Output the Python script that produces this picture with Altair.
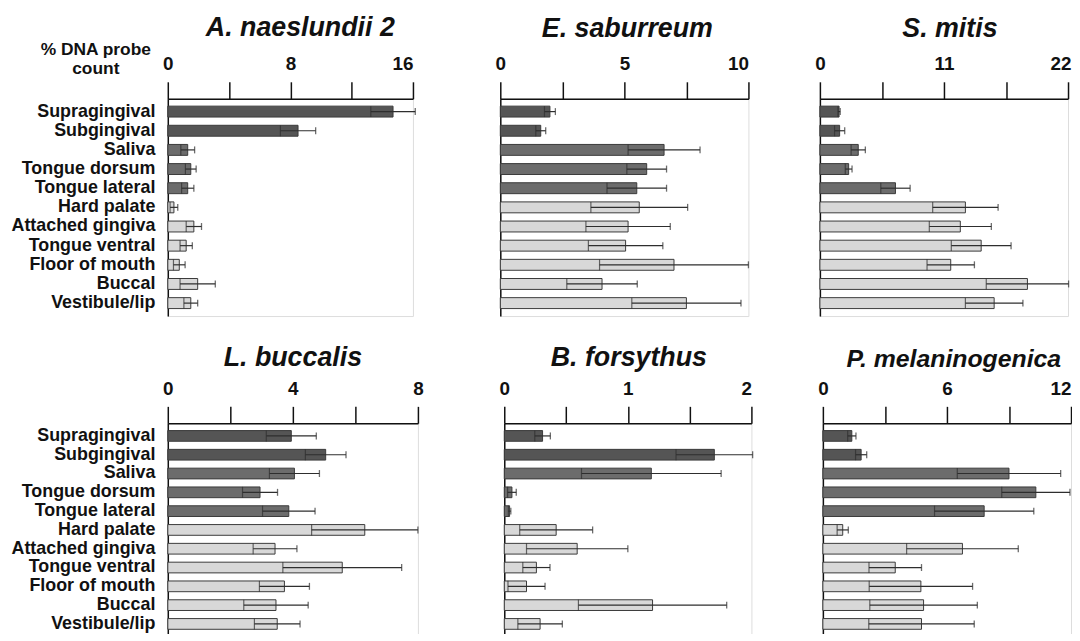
import altair as alt
import pandas as pd

sites = ["Supragingival", "Subgingival", "Saliva", "Tongue dorsum", "Tongue lateral",
         "Hard palate", "Attached gingiva", "Tongue ventral", "Floor of mouth",
         "Buccal", "Vestibule/lip"]
site_group = ["plaque", "plaque", "dark", "dark", "dark",
              "light", "light", "light", "light", "light", "light"]

species = ["A. naeslundii 2", "E. saburreum", "S. mitis",
           "L. buccalis", "B. forsythus", "P. melaninogenica"]
axis_max = [16, 10, 22, 8, 2, 12]

mean_values = [
    [14.7, 8.5, 1.3, 1.5, 1.3, 0.4, 1.7, 1.2, 0.75, 1.95, 1.5],
    [2.0, 1.63, 6.6, 5.9, 5.5, 5.6, 5.15, 5.05, 7.0, 4.1, 7.5],
    [1.7, 1.75, 3.4, 2.55, 6.7, 12.9, 12.45, 14.3, 11.6, 18.4, 15.45],
    [3.95, 5.05, 4.05, 2.95, 3.87, 6.3, 3.43, 5.58, 3.73, 3.46, 3.5],
    [0.31, 1.70, 1.19, 0.062, 0.043, 0.42, 0.59, 0.26, 0.18, 1.2, 0.29],
    [1.4, 1.85, 9.0, 10.3, 7.8, 0.96, 6.75, 3.5, 4.74, 4.87, 4.77],
]
se_values = [
    [1.45, 1.15, 0.45, 0.35, 0.4, 0.25, 0.5, 0.4, 0.38, 1.15, 0.45],
    [0.22, 0.2, 1.45, 0.8, 1.2, 1.95, 1.7, 1.5, 3.0, 1.42, 2.2],
    [0.1, 0.45, 0.63, 0.3, 1.3, 2.9, 2.75, 2.65, 2.1, 3.65, 2.55],
    [0.8, 0.65, 0.8, 0.56, 0.84, 1.7, 0.7, 1.9, 0.8, 1.03, 0.73],
    [0.063, 0.31, 0.565, 0.035, 0.01, 0.295, 0.41, 0.11, 0.15, 0.6, 0.18],
    [0.2, 0.27, 2.5, 1.65, 2.4, 0.27, 2.7, 1.27, 2.5, 2.6, 2.55],
]
# alignment of the last tick label and its extra horizontal offset
last_label_align = ["right", "right", "right", "center", "right", "right"]
last_label_offset = [0, 0, 3, 0, 0, 0]
panel_width = [247, 250, 250, 252, 249, 250]
panel_height = [219, 219, 219, 215, 215, 215]
title_offset = [-1, 12, 12, 8, 8, 8]
title_dx = [10, 3, 6, 0, 1, 7]
title_size = [27, 27, 27, 27, 27, 25]

FONT = "Liberation Sans"


def panel(i, first_col, first_row):
    mx = axis_max[i]
    df = pd.DataFrame({
        "site": sites,
        "group": site_group,
        "mean": mean_values[i],
        "se": se_values[i],
    })
    df["lo"] = (df["mean"] - df["se"]).clip(lower=0)
    df["hi"] = df["mean"] + df["se"]

    tick_vals = [mx * k / 4 for k in range(5)]
    mid = mx / 2
    label_expr = (f"datum.value == 0 || datum.value == {mid} || datum.value == {mx}"
                  " ? format(datum.value, 'd') : ''")
    label_align = {"condition": {"test": f"datum.value == {mx}",
                                 "value": last_label_align[i]},
                   "value": "center"}
    label_offset = {"condition": {"test": f"datum.value == {mx}",
                                  "value": last_label_offset[i]},
                    "value": 0}

    xaxis = alt.Axis(orient="top", values=tick_vals, labelExpr=label_expr,
                     labelAlign=label_align, labelOffset=label_offset,
                     labelOverlap=False, labelFlush=False,
                     labelFont=FONT, labelFontSize=19, labelFontWeight="bold",
                     labelColor="#111", labelPadding=8, tickSize=17, tickWidth=1.5,
                     tickColor="#111", domainColor="#111", domainWidth=1.5,
                     grid=False, title=None)
    xscale = alt.Scale(domain=[0, mx], nice=False, zero=True)

    if first_col:
        yaxis_kw = dict(labels=True, labelFont=FONT, labelFontSize=18,
                        labelFontWeight="bold", labelColor="#111", labelPadding=13,
                        labelLimit=300)
        if first_row:
            yaxis_kw.update(title=["% DNA probe", "count"], titleAngle=0,
                            titleFont=FONT, titleFontSize=17.5, titleFontWeight="bold",
                            titleColor="#111", titleAlign="center",
                            titleBaseline="top", titleX=-73, titleY=-58,
                            titleLineHeight=19)
        else:
            yaxis_kw.update(title=None)
    else:
        yaxis_kw = dict(labels=False, title=None)
    yaxis = alt.Axis(ticks=False, domain=True, domainColor="#111", domainWidth=1.5,
                     grid=False, **yaxis_kw)
    yscale = alt.Scale(domain=sites, paddingInner=0.43, paddingOuter=0.39)

    base = alt.Chart(df)
    y = alt.Y("site:N", sort=sites, scale=yscale, axis=yaxis)

    bars = base.mark_bar(stroke="#3a3a3a", strokeWidth=1).encode(
        x=alt.X("mean:Q", scale=xscale, axis=xaxis),
        y=y,
        color=alt.Color("group:N",
                        scale=alt.Scale(domain=["plaque", "dark", "light"],
                                        range=["#555555", "#6c6c6c", "#d8d8d8"]),
                        legend=None),
    )
    rule = base.mark_rule(color="#2e2e2e", strokeWidth=1.2).encode(
        x="lo:Q", x2="hi:Q", y=y)
    cap = base.mark_tick(color="#2e2e2e", size=7, thickness=1.3).encode(
        x="hi:Q", y=y)
    inner = base.mark_tick(color="#2e2e2e", size=11, thickness=1.2).encode(
        x="lo:Q", y=y)

    return alt.layer(bars, rule, inner, cap).properties(
        width=panel_width[i], height=panel_height[i],
        title=alt.TitleParams(species[i], font=FONT, fontSize=title_size[i],
                              fontStyle="italic", fontWeight="bold", color="#111",
                              anchor="middle", frame="group",
                              offset=title_offset[i], dx=title_dx[i]),
    )


row1 = alt.hconcat(panel(0, True, True),
                   alt.hconcat(panel(1, False, True), panel(2, False, True), spacing=64),
                   spacing=78)
row2 = alt.hconcat(panel(3, True, False),
                   alt.hconcat(panel(4, False, False), panel(5, False, False), spacing=63),
                   spacing=75)

chart = alt.vconcat(row1, row2, spacing=26).properties(
    padding={"left": 2, "top": 3, "right": -1, "bottom": -6}
).configure_view(stroke=None).configure(background="white")

chart.save("out.html", embed_options={"renderer": "svg", "actions": False})
